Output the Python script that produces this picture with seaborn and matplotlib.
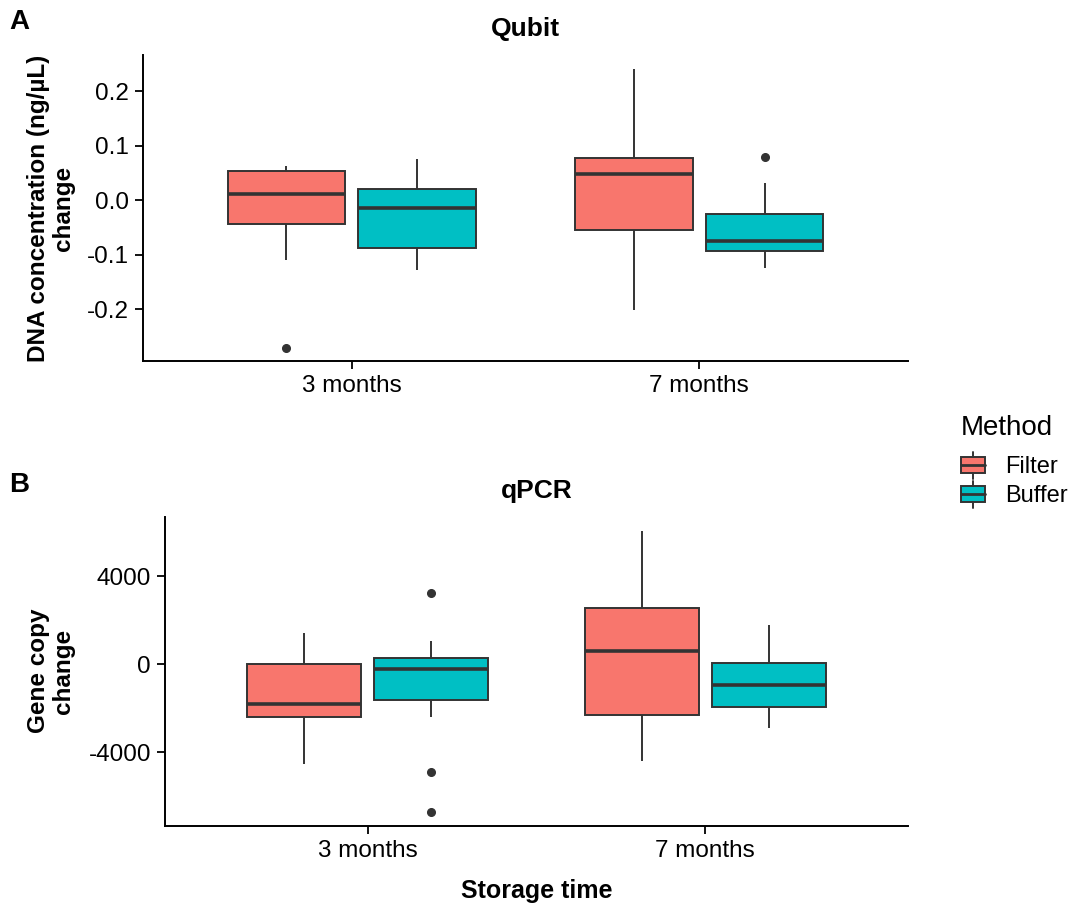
import pandas as pd
import numpy as np
import matplotlib
matplotlib.use("Agg")
import matplotlib.pyplot as plt
from matplotlib.patches import Rectangle
from matplotlib.lines import Line2D
from matplotlib.legend_handler import HandlerBase
import seaborn as sns

times = ['3 months', '7 months']
methods = ['Filter', 'Buffer']
colors = ['#F8766D', '#00BFC4']

qubit_filter_3 = [-0.271, -0.110, -0.080, -0.043, -0.020, 0.000, 0.012, 0.030, 0.045, 0.054, 0.058, 0.060, 0.063]
qubit_buffer_3 = [-0.128, -0.110, -0.095, -0.088, -0.060, -0.030, -0.0135, 0.000, 0.010, 0.021, 0.040, 0.060, 0.075]
qubit_filter_7 = [-0.201, -0.150, -0.090, -0.055, -0.020, 0.020, 0.049, 0.060, 0.070, 0.077, 0.120, 0.180, 0.242]
qubit_buffer_7 = [-0.124, -0.110, -0.100, -0.0935, -0.088, -0.080, -0.075, -0.060, -0.040, -0.026, -0.010, 0.031, 0.079]

qpcr_filter_3 = [-4517, -3500, -2900, -2403, -2200, -2000, -1825, -1200, -600, 0, 500, 1000, 1445]
qpcr_buffer_3 = [-6722, -4913, -2403, -1643, -1200, -700, -228, 0, 150, 274, 600, 1065, 3270]
qpcr_filter_7 = [-4380, -3500, -3000, -2312, -1500, -500, 608, 1200, 2000, 2570, 3500, 4800, 6068]
qpcr_buffer_7 = [-2890, -2500, -2100, -1947, -1700, -1300, -958, -600, -300, 61, 600, 1200, 1779]


def make_df(groups):
    rows = []
    for (t, m), vals in groups.items():
        for v in vals:
            rows.append({'Storage time': t, 'Method': m, 'value': v})
    return pd.DataFrame(rows)


df_qubit = make_df({('3 months', 'Filter'): qubit_filter_3, ('3 months', 'Buffer'): qubit_buffer_3,
                    ('7 months', 'Filter'): qubit_filter_7, ('7 months', 'Buffer'): qubit_buffer_7})
df_qpcr = make_df({('3 months', 'Filter'): qpcr_filter_3, ('3 months', 'Buffer'): qpcr_buffer_3,
                   ('7 months', 'Filter'): qpcr_filter_7, ('7 months', 'Buffer'): qpcr_buffer_7})

sns.set_style("ticks")
plt.rcParams['font.family'] = ['Liberation Sans', 'DejaVu Sans']
plt.rcParams['axes.unicode_minus'] = False
plt.rcParams['text.color'] = 'black'
plt.rcParams['axes.labelcolor'] = 'black'

W, H = 1079, 909
fig = plt.figure(figsize=(W / 100, H / 100), dpi=100)
ax1 = fig.add_axes([143 / W, 1 - 361 / H, (908 - 143) / W, (361 - 55) / H])
ax2 = fig.add_axes([165 / W, 1 - 826 / H, (908 - 165) / W, (826 - 517) / H])

dark = '#333333'
box_kw = dict(x='Storage time', y='value', hue='Method', order=times, hue_order=methods,
              palette=colors, saturation=1, width=0.75, gap=0.1, linecolor=dark, linewidth=1.4,
              showcaps=False, legend=False,
              medianprops=dict(linewidth=2.6, color=dark),
              whiskerprops=dict(linewidth=1.4, color=dark),
              flierprops=dict(marker='o', markersize=5.5, markerfacecolor=dark,
                              markeredgecolor=dark))

sns.boxplot(data=df_qubit, ax=ax1, **box_kw)
sns.boxplot(data=df_qpcr, ax=ax2, **box_kw)

for ax in (ax1, ax2):
    sns.despine(ax=ax)
    for s in ('left', 'bottom'):
        ax.spines[s].set_linewidth(1.4)
        ax.spines[s].set_color('black')
    ax.tick_params(axis='both', which='major', length=6, width=1.3, color='black',
                   labelsize=17.5, labelcolor='black', direction='out', pad=4,
                   left=True, bottom=True)
    ax.set_xlim(-0.6, 1.6)
    ax.set_xlabel('')
    ax.set_ylabel('')

ax1.set_ylim(-0.2956, 0.267)
ax1.set_yticks([-0.2, -0.1, 0.0, 0.1, 0.2])
ax1.set_yticklabels(['-0.2', '-0.1', '0.0', '0.1', '0.2'])
ax2.set_ylim(-7362, 6708)
ax2.set_yticks([-4000, 0, 4000])
ax2.set_yticklabels(['-4000', '0', '4000'])

ax1.set_title('Qubit', fontsize=19, fontweight='bold', pad=14, color='black')
ax2.set_title('qPCR', fontsize=19, fontweight='bold', pad=14, color='black')
ax2.set_xlabel('Storage time', fontsize=18, fontweight='bold', labelpad=12, color='black')

fig.text(51 / W, 1 - 208 / H, 'DNA concentration (ng/\u00b5L)\nchange', rotation=90,
         ha='center', va='center', multialignment='center', fontsize=17.5,
         fontweight='bold', linespacing=1.08)
fig.text(51 / W, 1 - 671 / H, 'Gene copy\nchange', rotation=90,
         ha='center', va='center', multialignment='center', fontsize=17.5,
         fontweight='bold', linespacing=1.08)

fig.text(19 / W, 1 - 22 / H, 'A', fontsize=20, fontweight='bold', ha='center', va='center')
fig.text(19 / W, 1 - 485 / H, 'B', fontsize=20, fontweight='bold', ha='center', va='center')


class BoxGlyph(HandlerBase):
    def __init__(self, color):
        super().__init__()
        self.color = color

    def create_artists(self, legend, orig_handle, xdescent, ydescent, width, height,
                       fontsize, trans):
        cx = width / 2 - xdescent
        y0 = -ydescent
        rect = Rectangle((-xdescent, y0 + height * 0.2), width, height * 0.6,
                         facecolor=self.color, edgecolor=dark, linewidth=1.4, transform=trans)
        med = Line2D([-xdescent, width - xdescent], [y0 + height / 2] * 2, color=dark,
                     linewidth=2.0, transform=trans)
        w1 = Line2D([cx, cx], [y0, y0 + height * 0.2], color=dark,
                    linewidth=1.4, transform=trans)
        w2 = Line2D([cx, cx], [y0 + height * 0.8, y0 + height], color=dark,
                    linewidth=1.4, transform=trans)
        return [rect, med, w1, w2]


handles = [Rectangle((0, 0), 1, 1, label=m) for m in methods]
hmap = {h: BoxGlyph(c) for h, c in zip(handles, colors)}
leg = fig.legend(handles=handles, labels=methods, handler_map=hmap, title='Method',
                 loc='upper left', bbox_to_anchor=(954 / W, 1 - 408 / H), frameon=False,
                 fontsize=17, title_fontsize=20, handlelength=1.0, handleheight=1.35,
                 handletextpad=0.85, labelspacing=0.1, borderaxespad=0, borderpad=0.3)
leg._legend_box.align = 'left'
leg._legend_box.sep = 8

fig.savefig('out.png', dpi=100)
